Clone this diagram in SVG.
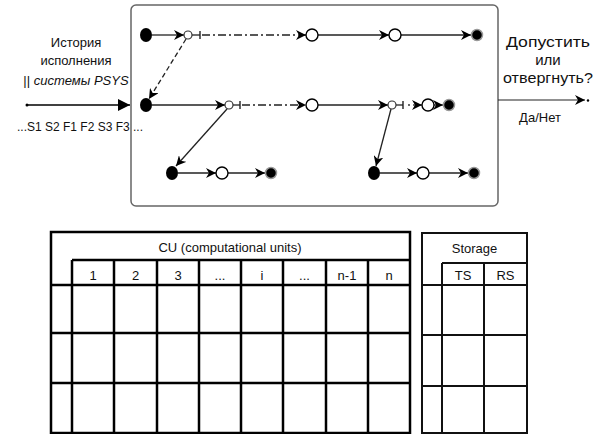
<svg xmlns="http://www.w3.org/2000/svg" width="600" height="434" viewBox="0 0 600 434">
  <defs>
    <marker id="arr" viewBox="0 0 10 10" refX="10" refY="5" markerWidth="10" markerHeight="10" markerUnits="userSpaceOnUse" orient="auto">
      <path d="M0,0 L10,5 L0,10 L3,5 Z" fill="#000"/>
    </marker>
    <marker id="arrBig" viewBox="0 0 12 12" refX="12" refY="6" markerWidth="12" markerHeight="12" markerUnits="userSpaceOnUse" orient="auto">
      <path d="M0,0 L12,6 L0,12 Z" fill="#000"/>
    </marker>
    <marker id="dot" viewBox="0 0 4 4" refX="2" refY="2" markerWidth="4" markerHeight="4" markerUnits="userSpaceOnUse">
      <circle cx="2" cy="2" r="1.5" fill="#000"/>
    </marker>
  </defs>
  <style>
    text { font-family: "Liberation Sans", Arial, sans-serif; font-size: 13px; fill: #111; }
    .c { text-anchor: middle; }
    .big { font-size: 15px; }
    .edge { fill: none; stroke: #222; stroke-width: 1.3; }
    .dd { fill: none; stroke: #222; stroke-width: 1.6; stroke-dasharray: 8 3 2 3; }
    .start { fill: #000; }
    .mid { fill: #fff; stroke: #000; stroke-width: 1.4; }
    .split { fill: #fff; stroke: #333; stroke-width: 1.2; }
    .end { fill: #000; stroke: #999; stroke-width: 1.5; }
    .cu { fill: none; stroke: #000; stroke-width: 2.5; }
    .st { fill: none; stroke: #111; stroke-width: 2; }
  </style>

  <!-- verifier box -->
  <g id="checker">
    <rect x="131" y="5" width="367" height="201" rx="5" fill="#fff" stroke="#666" stroke-width="1.5"/>
  </g>

  <!-- input/output annotations -->
  <g id="input">
    <text class="c" x="76" y="47" font-size="13.5">История</text>
    <text class="c" x="76" y="65" font-size="13.5">исполнения</text>
    <text class="c" x="76" y="85" font-size="13.5">|| <tspan font-style="italic">системы PSYS</tspan></text>
    <line x1="27" y1="105" x2="130" y2="105" stroke="#000" stroke-width="1.6" marker-start="url(#dot)" marker-end="url(#arrBig)"/>
    <text x="17" y="131" textLength="126" lengthAdjust="spacingAndGlyphs">...S1 S2 F1 F2 S3 F3 ...</text>
  </g>
  <g id="output">
    <text class="c big" x="548" y="47" textLength="84" lengthAdjust="spacingAndGlyphs">Допустить</text>
    <text class="c big" x="548" y="65">или</text>
    <text class="c big" x="548" y="83" textLength="90" lengthAdjust="spacingAndGlyphs">отвергнуть?</text>
    <line x1="498" y1="100" x2="585" y2="100" stroke="#222" stroke-width="1.2" marker-end="url(#arr)"/>
    <circle cx="588" cy="100.5" r="1.2" fill="#000"/>
    <text class="c" x="540" y="122" font-size="14">Да/Нет</text>
  </g>

  <!-- connectors -->
  <g id="connectors">
    <!-- row 1 -->
    <line class="edge" x1="152" y1="35" x2="184" y2="35" marker-end="url(#arr)"/>
    <line class="edge" x1="192" y1="35" x2="200" y2="35"/>
    <line x1="200" y1="31" x2="200" y2="39" stroke="#222" stroke-width="1.4"/>
    <line class="dd" x1="202" y1="35" x2="306" y2="35" marker-end="url(#arr)"/>
    <line class="edge" x1="318" y1="35" x2="389" y2="35" marker-end="url(#arr)"/>
    <line class="edge" x1="401" y1="35" x2="471" y2="35" marker-end="url(#arr)"/>
    <!-- row 2 -->
    <line class="edge" x1="152" y1="105" x2="225" y2="105" marker-end="url(#arr)"/>
    <line class="edge" x1="233" y1="105" x2="240" y2="105"/>
    <line x1="240" y1="101" x2="240" y2="109" stroke="#222" stroke-width="1.4"/>
    <line class="dd" x1="242" y1="105" x2="306" y2="105" marker-end="url(#arr)"/>
    <line class="edge" x1="318" y1="105" x2="388" y2="105" marker-end="url(#arr)"/>
    <line class="edge" x1="396" y1="105" x2="403" y2="105"/>
    <line x1="403" y1="101" x2="403" y2="109" stroke="#222" stroke-width="1.4"/>
    <circle cx="409" cy="105" r="0.9" fill="#222"/>
    <line class="edge" x1="413" y1="105" x2="422" y2="105" marker-end="url(#arr)"/>
    <line class="edge" x1="434" y1="105" x2="443" y2="105" marker-end="url(#arr)"/>
    <!-- row 3 -->
    <line class="edge" x1="178" y1="173" x2="216" y2="173" marker-end="url(#arr)"/>
    <line class="edge" x1="228" y1="173" x2="265" y2="173" marker-end="url(#arr)"/>
    <line class="edge" x1="380" y1="173" x2="417" y2="173" marker-end="url(#arr)"/>
    <line class="edge" x1="429" y1="173" x2="468" y2="173" marker-end="url(#arr)"/>
    <!-- forks -->
    <line class="edge" x1="186" y1="39" x2="149" y2="99" stroke-dasharray="5 3" marker-end="url(#arr)"/>
    <line class="edge" x1="227" y1="109" x2="176" y2="166" marker-end="url(#arr)"/>
    <line class="edge" x1="391" y1="109" x2="376" y2="166" marker-end="url(#arr)"/>
  </g>

  <!-- states -->
  <g id="s1-start"><ellipse class="start" cx="146" cy="35" rx="6" ry="7"/></g>
  <g id="s1-fork"><circle class="split" cx="188" cy="35" r="4"/></g>
  <g id="s1-a"><circle class="mid" cx="312" cy="35" r="6"/></g>
  <g id="s1-b"><circle class="mid" cx="395" cy="35" r="6"/></g>
  <g id="s1-end"><circle class="end" cx="477" cy="35" r="5.5"/></g>

  <g id="s2-start"><ellipse class="start" cx="146" cy="105" rx="6" ry="7"/></g>
  <g id="s2-fork"><circle class="split" cx="229" cy="105" r="4"/></g>
  <g id="s2-a"><circle class="mid" cx="312" cy="105" r="6"/></g>
  <g id="s2-fork2"><circle class="split" cx="392" cy="105" r="4"/></g>
  <g id="s2-b"><circle class="mid" cx="428" cy="105" r="6"/></g>
  <g id="s2-end"><circle class="end" cx="449" cy="105" r="5.5"/></g>

  <g id="s3-start"><ellipse class="start" cx="172" cy="173" rx="6" ry="7"/></g>
  <g id="s3-a"><circle class="mid" cx="222" cy="173" r="6"/></g>
  <g id="s3-end"><circle class="end" cx="271" cy="173" r="5.5"/></g>

  <g id="s4-start"><ellipse class="start" cx="374" cy="173" rx="6" ry="7"/></g>
  <g id="s4-a"><circle class="mid" cx="423" cy="173" r="6"/></g>
  <g id="s4-end"><circle class="end" cx="474" cy="173" r="5.5"/></g>

  <!-- computational units table -->
  <g id="cu-table">
    <rect class="cu" x="51" y="232" width="359" height="201"/>
    <line class="cu" x1="72" y1="260" x2="410" y2="260"/>
    <line class="cu" x1="51" y1="285" x2="410" y2="285"/>
    <line class="cu" x1="51" y1="333" x2="410" y2="333"/>
    <line class="cu" x1="51" y1="383" x2="410" y2="383"/>
    <line class="cu" x1="72" y1="260" x2="72" y2="433"/>
    <line class="cu" x1="114" y1="260" x2="114" y2="433"/>
    <line class="cu" x1="157" y1="260" x2="157" y2="433"/>
    <line class="cu" x1="199" y1="260" x2="199" y2="433"/>
    <line class="cu" x1="241" y1="260" x2="241" y2="433"/>
    <line class="cu" x1="283" y1="260" x2="283" y2="433"/>
    <line class="cu" x1="326" y1="260" x2="326" y2="433"/>
    <line class="cu" x1="368" y1="260" x2="368" y2="433"/>
    <text class="c" x="230" y="252" font-size="13.5">CU (computational units)</text>
    <text class="c" x="93" y="280">1</text>
    <text class="c" x="135.5" y="280">2</text>
    <text class="c" x="178" y="280">3</text>
    <text class="c" x="220" y="280" font-size="9" fill="#777">...</text>
    <text class="c" x="262" y="280">i</text>
    <text class="c" x="304.5" y="280" font-size="9" fill="#777">...</text>
    <text class="c" x="347" y="280">n-1</text>
    <text class="c" x="389" y="280">n</text>
  </g>

  <!-- storage table -->
  <g id="storage-table">
    <rect class="st" x="422" y="233" width="105" height="200"/>
    <line class="st" x1="442" y1="263" x2="527" y2="263"/>
    <line class="st" x1="422" y1="285" x2="527" y2="285"/>
    <line class="st" x1="422" y1="335" x2="527" y2="335"/>
    <line class="st" x1="422" y1="386" x2="527" y2="386"/>
    <line class="st" x1="442" y1="263" x2="442" y2="433"/>
    <line class="st" x1="484" y1="263" x2="484" y2="433"/>
    <text class="c" x="474.5" y="253">Storage</text>
    <text class="c" x="463" y="280">TS</text>
    <text class="c" x="505.5" y="280">RS</text>
  </g>
</svg>
